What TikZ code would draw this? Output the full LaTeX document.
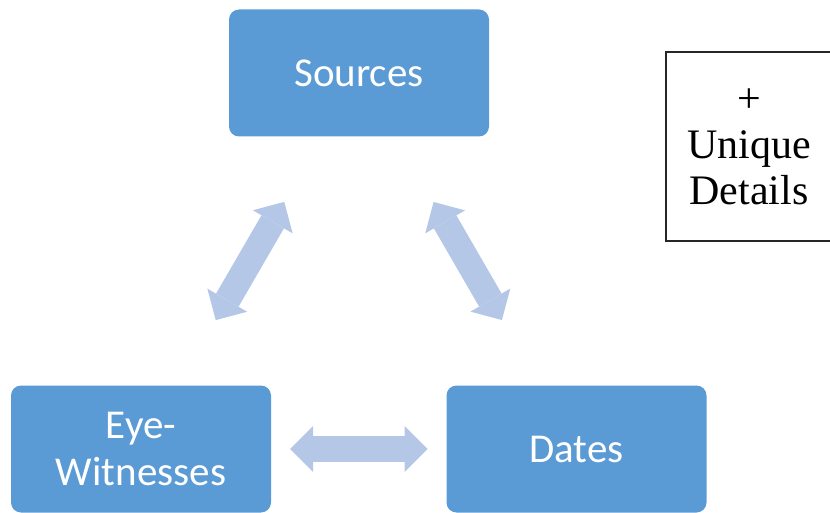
\documentclass[tikz,border=0pt]{standalone}
\usepackage{fontspec}
\setmainfont{Carlito}
\newfontfamily\timesfont{Liberation Serif}
\usetikzlibrary{arrows.meta}
\definecolor{boxblue}{HTML}{5B9BD5}
\definecolor{arrowblue}{HTML}{B4C7E7}
\tikzset{
  blockbox/.style={fill=boxblue, draw=none, rounded corners=10pt, text=white,
    minimum width=260pt, minimum height=127pt, align=center,
    font=\fontsize{41}{47}\selectfont},
  bigarrow/.style={draw=arrowblue, line width=26pt,
    {Triangle[width=46pt, length=23pt, line width=0pt]}-{Triangle[width=46pt, length=23pt, line width=0pt]},
    shorten <=149pt, shorten >=149pt},
  notebox/.style={draw=black!85, line width=1.2pt, minimum width=166pt, minimum height=189pt,
    align=center, font=\timesfont\fontsize{42}{46}\selectfont}
}
\begin{document}
\begin{tikzpicture}[x=1pt, y=-1pt]
\useasboundingbox (0,0) rectangle (830,513);
\node[blockbox] (src) at (359,73) {Sources};
\node[blockbox] (eye) at (141,449) {Eye-\\Witnesses};
\node[blockbox] (dat) at (576.5,449) {Dates};
\draw[bigarrow] (src.center) -- (eye.center);
\draw[bigarrow] (src.center) -- (dat.center);
\draw[bigarrow] (eye.center) -- (dat.center);
% side note
\node[notebox] (note) at (749,146.5) {+\\Unique\\Details};
\end{tikzpicture}
\end{document}
